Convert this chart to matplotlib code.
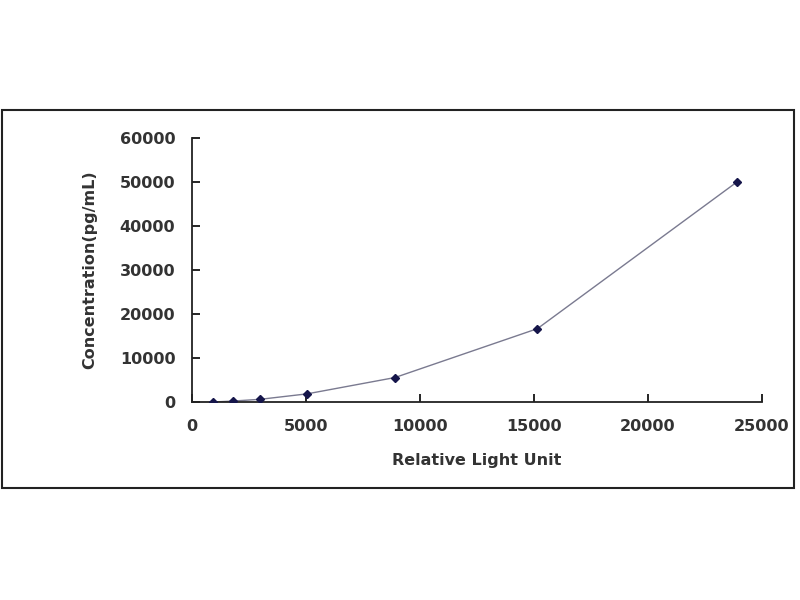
import matplotlib.pyplot as plt
from matplotlib.patches import Rectangle

# standard curve points
rlu = [920, 1780, 3000, 5050, 8900, 15150, 23900]
conc = [0, 206, 617, 1852, 5556, 16667, 50000]

xticks = [0, 5000, 10000, 15000, 20000, 25000]
yticks = [0, 10000, 20000, 30000, 40000, 50000, 60000]

plt.rcParams['font.family'] = ['DejaVu Sans']

fig = plt.figure(figsize=(8, 6), dpi=100)
fig.patches.append(Rectangle((0.003, 0.187), 0.989, 0.63, transform=fig.transFigure,
                             fill=False, edgecolor='#222222', linewidth=1.5))

ax = fig.add_axes([0.24, 0.33, 0.7125, 0.44])
ax.plot(rlu, conc, color='#7a7a90', linewidth=1.0, zorder=2)
ax.plot(rlu, conc, linestyle='none', marker='D', markersize=4.5,
        color='#15154a', zorder=3)

ax.set_xlim(0, 25000)
ax.set_ylim(0, 60000)
ax.set_xticks(xticks)
ax.set_yticks(yticks)
ax.tick_params(direction='in', length=6, width=1.2, labelsize=11.5, pad=12)
for lab in ax.get_xticklabels() + ax.get_yticklabels():
    lab.set_fontweight('bold')
    lab.set_color('#333333')

for s in ['top', 'right']:
    ax.spines[s].set_visible(False)
for s in ['left', 'bottom']:
    ax.spines[s].set_linewidth(1.3)
    ax.spines[s].set_color('#222222')

ax.set_xlabel('Relative Light Unit', fontsize=11.5, fontweight='bold', color='#333333', labelpad=14)
ax.set_ylabel('Concentration(pg/mL)', fontsize=11.5, fontweight='bold', color='#333333', labelpad=16)

fig.savefig('out.png', dpi=100)
